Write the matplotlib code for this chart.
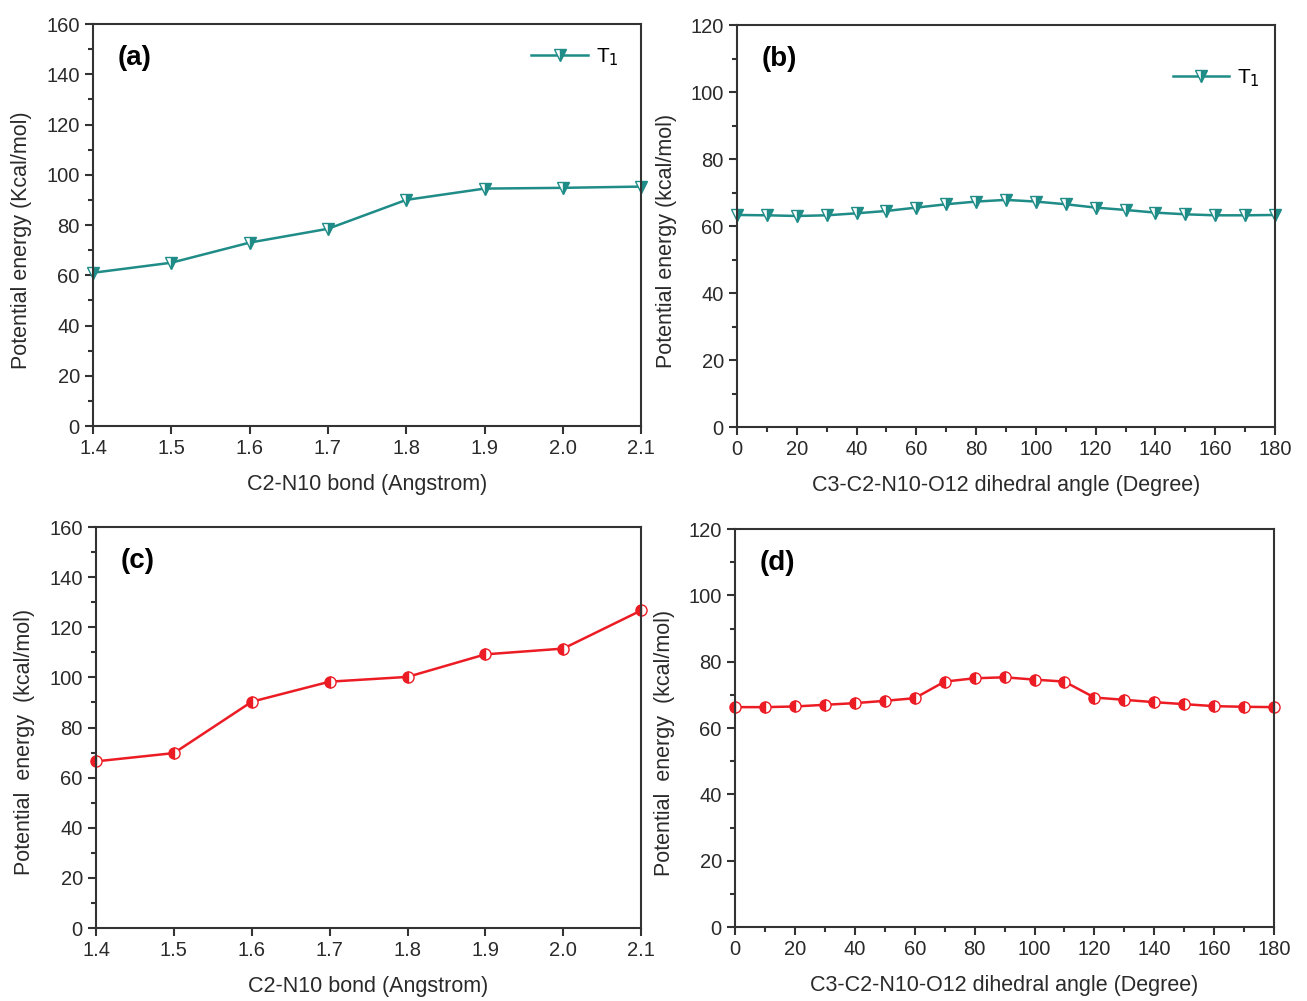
import numpy as np
import matplotlib
matplotlib.use("Agg")
import matplotlib.pyplot as plt
from matplotlib.ticker import MultipleLocator

plt.rcParams['font.family'] = ['Liberation Sans', 'DejaVu Sans']

# данные: длина связи C2-N10 и двугранный угол
bond = [1.4, 1.5, 1.6, 1.7, 1.8, 1.9, 2.0, 2.1]
angle = [0, 10, 20, 30, 40, 50, 60, 70, 80, 90, 100, 110, 120, 130, 140, 150, 160, 170, 180]

t1_bond = [61.0, 65.0, 73.0, 78.5, 90.0, 94.5, 94.8, 95.3]
t1_angle = [63.3, 63.2, 63.0, 63.2, 63.8, 64.5, 65.5, 66.5, 67.3, 67.8,
            67.3, 66.5, 65.5, 64.8, 64.0, 63.5, 63.2, 63.2, 63.3]
s_bond = [66.5, 69.8, 90.3, 98.3, 100.2, 109.2, 111.5, 126.7]
s_angle = [66.3, 66.3, 66.5, 67.0, 67.5, 68.2, 69.0, 74.0, 75.0, 75.3,
           74.6, 74.0, 69.2, 68.5, 67.8, 67.2, 66.6, 66.4, 66.3]

teal = '#1f8c88'
red = '#ec1c24'
frame = '#333333'

fig = plt.figure(figsize=(13.07, 10.01), dpi=100)
ax_a = fig.add_axes([0.0712, 0.5744, 0.4193, 0.4016])
ax_b = fig.add_axes([0.5639, 0.5734, 0.4116, 0.4016])
ax_c = fig.add_axes([0.0735, 0.0729, 0.4170, 0.4006])
ax_d = fig.add_axes([0.5624, 0.0739, 0.4124, 0.3976])


def style(ax, xlim, ylim, xmajor, xminor, ylabel, xlabel, letter):
    ax.set_xlim(*xlim)
    ax.set_ylim(*ylim)
    ax.xaxis.set_major_locator(MultipleLocator(xmajor))
    if xminor:
        ax.xaxis.set_minor_locator(MultipleLocator(xminor))
    ax.yaxis.set_major_locator(MultipleLocator(20))
    ax.yaxis.set_minor_locator(MultipleLocator(10))
    ax.tick_params(which='major', direction='out', length=6, width=1.5,
                   color=frame, labelsize=14.5, labelcolor='#2a2a2a')
    ax.tick_params(which='minor', direction='out', length=3.5, width=1.5, color=frame)
    for sp in ax.spines.values():
        sp.set_color(frame)
        sp.set_linewidth(1.5)
    ax.set_ylabel(ylabel, fontsize=15.5, color='#2a2a2a')
    ax.set_xlabel(xlabel, fontsize=15.5, color='#2a2a2a')
    ax.yaxis.set_label_coords(-0.112, 0.463)
    ax.xaxis.set_label_coords(0.5, -0.12)
    ax.text(0.045, 0.915, letter, transform=ax.transAxes, fontsize=20,
            fontweight='bold', va='center', ha='left')


tri = dict(marker='v', markersize=9, fillstyle='right', markerfacecolor=teal,
           markerfacecoloralt='white', markeredgecolor=teal, markeredgewidth=1,
           color=teal, linewidth=1.8, clip_on=False, label='T$_1$')
circ = dict(marker='o', markersize=8, fillstyle='left', markerfacecolor=red,
            markerfacecoloralt='white', markeredgecolor=red, markeredgewidth=1,
            color=red, linewidth=1.8, clip_on=False)

ax_a.plot(bond, t1_bond, **tri)
style(ax_a, (1.4, 2.1), (0, 160), 0.1, None,
      'Potential energy (Kcal/mol)', 'C2-N10 bond (Angstrom)', '(a)')
ax_a.xaxis.set_major_formatter(plt.FuncFormatter(lambda v, p: f"{v:.1f}"))
ax_a.legend(loc='center left', bbox_to_anchor=(0.80, 0.918), frameon=False,
            fontsize=15, handlelength=2.7, handletextpad=0.4,
            borderpad=0, borderaxespad=0)

ax_b.plot(angle, t1_angle, **tri)
style(ax_b, (0, 180), (0, 120), 20, 10,
      'Potential energy (kcal/mol)', 'C3-C2-N10-O12 dihedral angle (Degree)', '(b)')
ax_b.legend(loc='center left', bbox_to_anchor=(0.81, 0.868), frameon=False,
            fontsize=15, handlelength=2.7, handletextpad=0.4,
            borderpad=0, borderaxespad=0)

ax_c.plot(bond, s_bond, **circ)
style(ax_c, (1.4, 2.1), (0, 160), 0.1, None,
      'Potential  energy  (kcal/mol)', 'C2-N10 bond (Angstrom)', '(c)')
ax_c.xaxis.set_major_formatter(plt.FuncFormatter(lambda v, p: f"{v:.1f}"))

ax_d.plot(angle, s_angle, **circ)
style(ax_d, (0, 180), (0, 120), 20, 10,
      'Potential  energy  (kcal/mol)', 'C3-C2-N10-O12 dihedral angle (Degree)', '(d)')

fig.savefig('out.png', dpi=100)
